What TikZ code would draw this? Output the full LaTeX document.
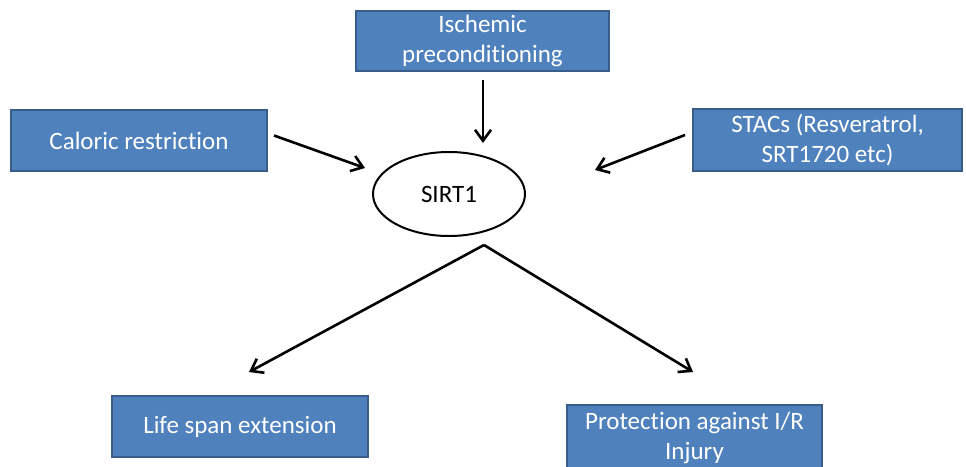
\documentclass[tikz,border=0pt]{standalone}
\usepackage{fontspec}
\setmainfont{Carlito}[Ligatures={NoCommon}]
\usetikzlibrary{arrows.meta,shapes.geometric}
\definecolor{boxfill}{HTML}{4F81BD}
\definecolor{boxline}{HTML}{385D8A}
\begin{document}
\begin{tikzpicture}[x=1pt,y=-1pt,
  bluebox/.style={draw=boxline, line width=2pt, fill=boxfill, text=white,
    font=\fontsize{25}{30}\selectfont, align=center, inner sep=0pt},
  arr/.style={-{Straight Barb[length=11pt,width=16pt,line width=2.6pt]}, line width=2.6pt, black}]
\useasboundingbox (0,0) rectangle (966,466);
\fill[white] (0,0) rectangle (966,466);
\node[bluebox, minimum width=253pt, minimum height=60pt] (isch) at (482.5,41) {Ischemic\\preconditioning};
\node[bluebox, minimum width=256pt, minimum height=61pt] (cal) at (139,140.5) {Caloric restriction};
\node[bluebox, minimum width=269pt, minimum height=62pt] (stacs) at (827.5,140) {STACs (Resveratrol,\\SRT1720 etc)};
\node[bluebox, minimum width=256pt, minimum height=61pt] (life) at (240,426.5) {Life span extension};
\node[bluebox, minimum width=255pt, minimum height=66pt, anchor=north] (prot) at (694.5,404) {Protection against I/R\\Injury};
\node[ellipse, draw, line width=2pt, fill=white, minimum width=152pt, minimum height=84pt,
  font=\fontsize{25}{30}\selectfont] (sirt) at (449,194) {SIRT1};
\coordinate (t1) at (483,143);
\coordinate (t2) at (365,168);
\coordinate (t3) at (595,170);
\coordinate (apex) at (484,245);
\coordinate (t4) at (249,372);
\coordinate (t5) at (693,372);
\draw[arr] ([shift={(0.5,8)}]isch.south) -- (t1);
\draw[arr] ([shift={(6,-5)}]cal.east) -- (t2);
\draw[arr] ([shift={(-7,-5)}]stacs.west) -- (t3);
\draw[arr] (apex) -- (t4);
\draw[arr] (apex) -- (t5);
\end{tikzpicture}
\end{document}
